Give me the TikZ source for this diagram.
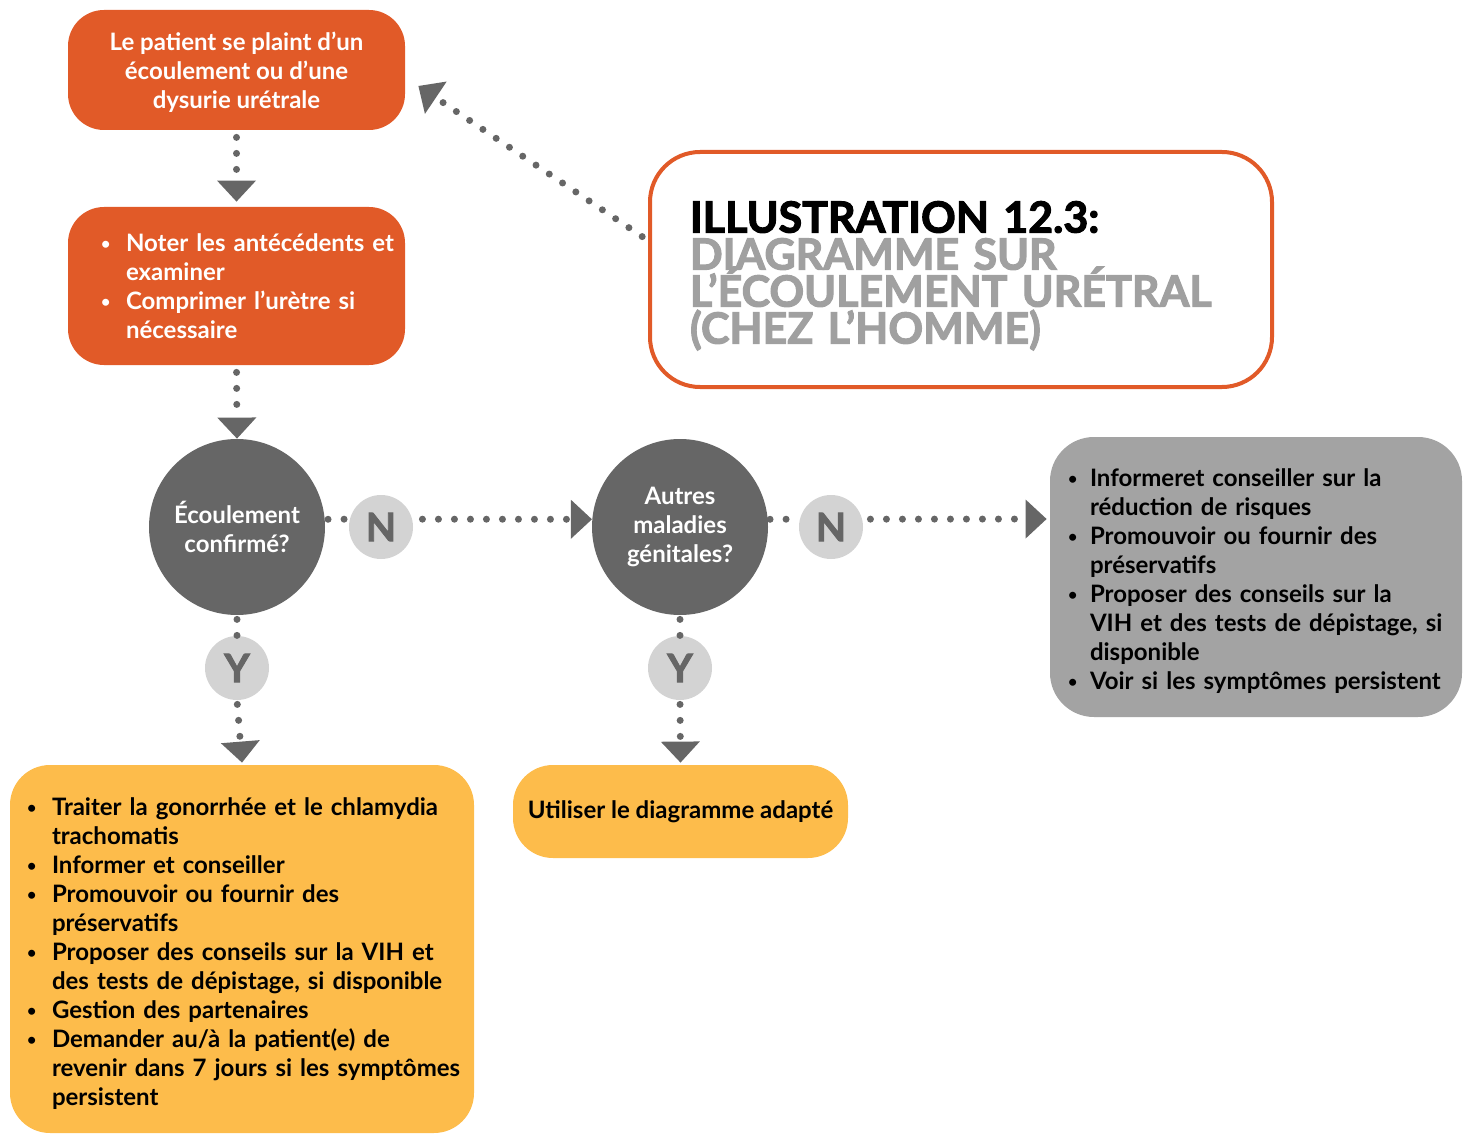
\documentclass[tikz,border=0pt]{standalone}
\usepackage{fontspec}
\setmainfont{Lato}
\newfontfamily\heavyfont{Lato}[BoldFeatures={FakeBold=2.5}]
\usetikzlibrary{arrows.meta}
\definecolor{orng}{HTML}{E15A28}
\definecolor{dgray}{HTML}{666666}
\definecolor{lgray}{HTML}{D3D3D3}
\definecolor{mgray}{HTML}{A3A3A3}
\definecolor{tgray}{HTML}{A0A0A0}
\definecolor{yell}{HTML}{FDBC4B}
\newcommand\bulx[1][12.5pt]{\makebox[#1][l]{\raisebox{1pt}{\fontsize{8pt}{8pt}\selectfont •}}}
\newcommand\bliy[1][12.5pt]{\hspace*{#1}}
\newcommand\tightlx{\lineskiplimit=-100pt\relax\lineskip=0pt\relax}
\begin{document}
\begin{tikzpicture}[x=0.5pt,y=-0.5pt,
  txt/.style={font=\bfseries\fontsize{12pt}{14.5pt}\selectfont},
  obox/.style={txt, fill=orng, text=white, rounded corners=18pt, inner ysep=0pt},
  ybx/.style={txt, fill=yell, text=black, rounded corners=20pt, inner ysep=0pt},
  gbx/.style={txt, fill=mgray, text=black, rounded corners=22pt, inner ysep=0pt},
  bigc/.style={txt, circle, fill=dgray, text=white, minimum size=88pt, inner sep=0pt, align=center},
  lab/.style={circle, fill=lgray, text=dgray, minimum size=32pt, inner sep=0pt, font=\heavyfont\bfseries\fontsize{19.5pt}{20pt}\selectfont},
  dotline/.style={draw=dgray, line width=3.5pt, line cap=round, dash pattern=on 0pt off 8pt},
  tri/.tip={Triangle[width=19.5pt,length=10.5pt,line width=0pt]}
]
\useasboundingbox (0,0) rectangle (1467,1134);

\node[obox, minimum width=168.5pt, minimum height=60pt, align=center] (b1) at (236.5,70)
  {\rule{0pt}{12pt}Le patient se plaint d’un\\écoulement ou d’une\\dysurie urétrale};

\node[obox, minimum height=79pt, inner xsep=16.5pt, text width=135.5pt, align=left] (b2) at (236.5,286)
  {\mbox{\bulx Noter les antécédents et}\\ \bliy examiner\\ \mbox{\bulx Comprimer l’urètre si}\\ \bliy nécessaire};

\node[bigc] (c1) at (237,527) {Écoulement\\confirmé?};
\node[bigc] (c2) at (680,527) {Autres\\maladies\\génitales?};

\node[lab] (n1) at (381,527) {N};
\node[lab] (n2) at (831,527) {N};
\node[lab] (y1) at (237,668) {Y};
\node[lab] (y2) at (680,668) {Y};

\node[ybx, minimum height=184pt, inner xsep=8.5pt, text width=215pt, align=left] (y3) at (242,949)
  {\rule{0pt}{14pt}\mbox{\bulx Traiter la gonorrhée et le chlamydia}\\
   \bliy trachomatis\\
   \bulx Informer et conseiller\\
   \bulx Promouvoir ou fournir des\\
   \bliy préservatifs\\
   \mbox{\bulx Proposer des conseils sur la VIH et}\\
   \mbox{\bliy des tests de dépistage, si disponible}\\
   \bulx Gestion des partenaires\\
   \bulx Demander au/à la patient(e) de\\
   \mbox{\bliy revenir dans 7 jours si les symptômes}\\
   \bliy persistent};

\node[ybx, minimum width=167.5pt, minimum height=46.5pt, align=center] (y4) at (680.5,811.5)
  {Utiliser le diagramme adapté};

\node[gbx, minimum height=140pt, inner xsep=9pt, text width=188pt, align=left] (g1) at (1256,577)
  {\rule{0pt}{13pt}\mbox{\bulx[11pt]Informeret conseiller sur la}\\
   \bliy[11pt]réduction de risques\\
   \mbox{\bulx[11pt]Promouvoir ou fournir des}\\
   \bliy[11pt]préservatifs\\
   \mbox{\bulx[11pt]Proposer des conseils sur la}\\
   \mbox{\bliy[11pt]VIH et des tests de dépistage, si}\\
   \bliy[11pt]disponible\\
   \mbox{\bulx[11pt]Voir si les symptômes persistent}};

\node[draw=orng, line width=2pt, fill=white, rounded corners=25pt, minimum height=117.5pt,
      inner xsep=20pt, text width=271pt, align=left,
      font=\heavyfont\bfseries\fontsize{21.5pt}{18.5pt}\selectfont, text=tgray] (t1) at (961,269.5)
  {\tightlx\rule{0pt}{22pt}\textcolor{black}{ILLUSTRATION 12.3:}\\DIAGRAMME SUR\\\mbox{L’ÉCOULEMENT URÉTRAL}\\(CHEZ L’HOMME)};

% connectors
\draw[dotline, shorten <=3.5pt, -{tri}] (b1.south) -- ([yshift=2.5pt]b2.north);
\draw[dotline, shorten <=3.5pt, -{tri}] (b2.south) -- (c1.north);
\draw[dotline, shorten <=2pt] (c1.south) -- (y1.north);
\draw[dotline, shorten <=2pt, -{tri}] (y1.south) -- ([yshift=1pt]y3.north);
\draw[dotline, shorten <=2pt] (c2.south) -- (y2.north);
\draw[dotline, shorten <=2pt, -{tri}] (y2.south) -- ([yshift=1pt]y4.north);
\draw[dotline, shorten <=1.5pt] (c1.5) -- (n1.166);
\draw[dotline, shorten <=5pt, -{tri}] (n1.14) -- (c2.175);
\draw[dotline, shorten <=1pt] (c2.5) -- (n2.166);
\draw[dotline, shorten <=4pt, -{tri}] (n2.14) -- ([shift={(-1.5pt,29pt)}]g1.west);
\draw[dotline, shorten <=3.5pt, -{tri}] ([yshift=14.5pt]t1.west) -- ([shift={(6.5pt,-8pt)}]b1.east);
\end{tikzpicture}
\end{document}
